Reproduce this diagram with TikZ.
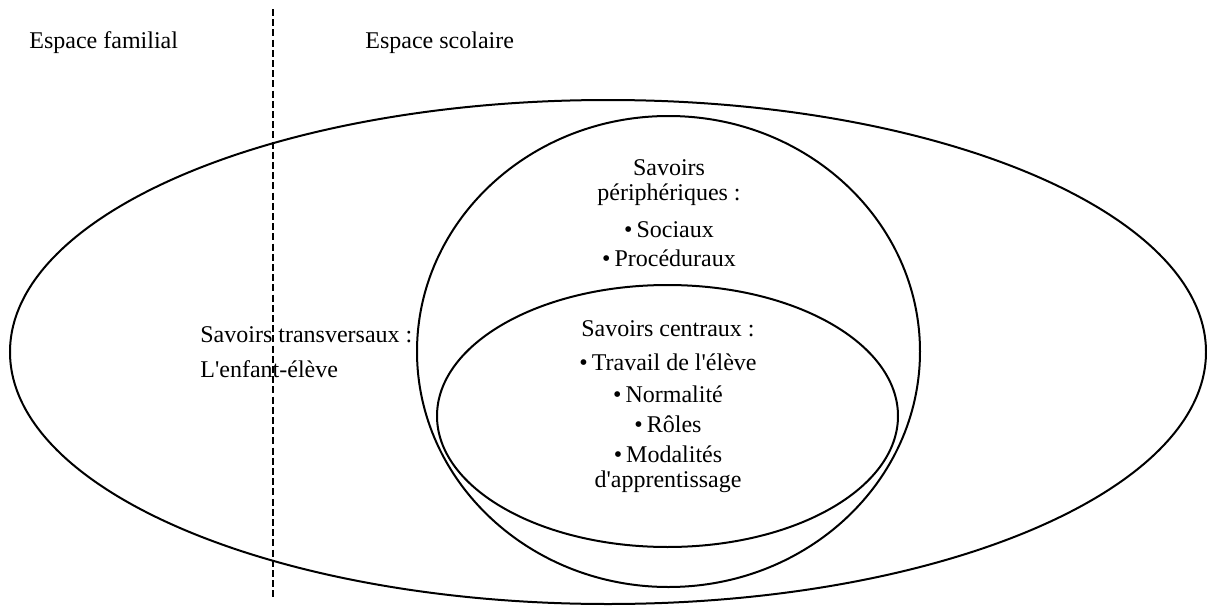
\documentclass[tikz,border=0pt]{standalone}
\usepackage{fontspec}
\setmainfont{Liberation Serif}[Ligatures=TeXOff]
\usetikzlibrary{positioning}
\tikzset{lbl/.style = {inner sep = 0, anchor = base, font = \fontsize{12}{12.5}\selectfont}}
\tikzset{ring/.style = {line width = 1pt}}
\tikzset{divline/.style = {line width = 1pt, dash pattern = on 3.5pt off 1.6pt}}

\begin{document}
\begin{tikzpicture}[x=0.5pt, y=-0.5pt]
      \useasboundingbox (0, 0) rectangle (1207, 611);
      % the three spaces of knowledge
      \draw [ring] (608, 352) ellipse [x radius = 598, y radius = 252];
      \draw [ring] (668.5, 351.5) ellipse [x radius = 251.5, y radius = 235.5];
      \draw [ring] (667.5, 416) ellipse [x radius = 230.5, y radius = 131];
      % family / school border
      \coordinate (divtop) at (273, 9);
      \coordinate (divbot) at (273, 598);
      \draw [divline] (divtop) -- (divbot);
      \node [lbl, anchor = base west] (famil) at (29, 48) {Espace familial};
      \node [lbl, anchor = base west] (scol) at (365, 48) {Espace scolaire};
      \node [lbl, anchor = base west] (transv) at (200, 342) {Savoirs transversaux :};
      \node [lbl, anchor = base west] (enfant) at (200, 377) {L'enfant-élève};
      \node [lbl] (periph1) at (669, 175) {Savoirs};
      \node [lbl] (periph2) at (669, 200) {périphériques :};
      \node [lbl] (sociaux) at (669, 237) {•\,Sociaux};
      \node [lbl] (proced) at (669, 266) {•\,Procéduraux};
      \node [lbl] (centr) at (668, 336) {Savoirs centraux :};
      \foreach \name/\txt/\y in {travail/Travail de l'élève/370, normal/Normalité/402,
                                 roles/Rôles/432, modal/Modalités/462} {
        \node [lbl] (\name) at (668, \y) {•\,\txt};
      }
      \node [lbl] (apprent) at (668, 487) {d'apprentissage};
    \end{tikzpicture}
\end{document}
